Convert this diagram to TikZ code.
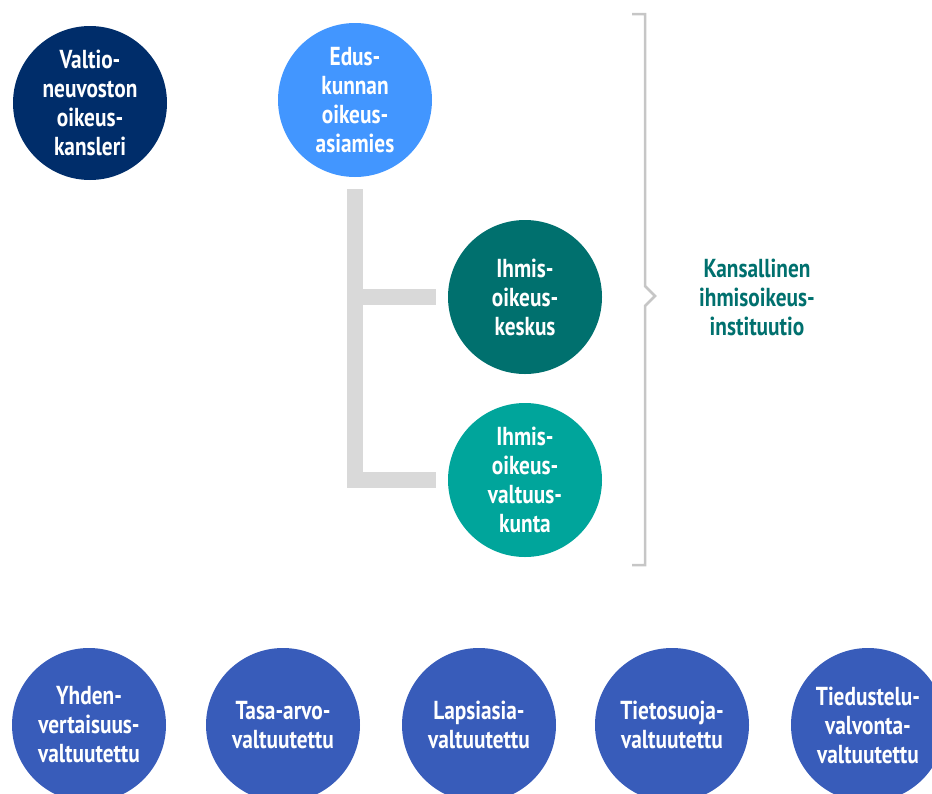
\documentclass[tikz,border=0pt]{standalone}
\usepackage{fontspec}
\setmainfont{PT Sans}[FakeStretch=0.82]
\usetikzlibrary{positioning}
\definecolor{navy}{RGB}{0,45,106}
\definecolor{skyblue}{RGB}{66,150,255}
\definecolor{darkteal}{RGB}{0,112,110}
\definecolor{lightteal}{RGB}{0,165,155}
\definecolor{valtublue}{RGB}{56,92,186}
\definecolor{bargrey}{RGB}{217,217,217}
\begin{document}
\begin{tikzpicture}[x=1pt, y=-1pt,
	ball/.style={circle, minimum size=154pt, inner sep=0pt, text=white, align=center,
		font=\fontsize{26}{29}\selectfont\bfseries},
	conn/.style={line width=16pt, color=bargrey},
	bracket/.style={line width=2.5pt, color=bargrey!90!black!95}]
		\useasboundingbox (0,0) rectangle (932,793);
		\clip (0,0) rectangle (932,793);
		
		\node [ball, fill=navy] (okv) at (90,103) {Valtio-\\neuvoston\\oikeus-\\kansleri};
		\node [ball, fill=skyblue] (eoa) at (355,100) {Edus-\\kunnan\\oikeus-\\asiamies};
		\node [ball, fill=darkteal] (keskus) at (525,297) {Ihmis-\\oikeus-\\keskus};
		\node [ball, fill=lightteal] (vk) at (525,480) {Ihmis-\\oikeus-\\valtuus-\\kunta};
		
		\draw [conn] ([yshift=-12pt]eoa.south) |- ([xshift=-12pt]vk.west);
		\draw [conn] (355,297) -- ([xshift=-12pt]keskus.west);
		
		\coordinate (B1) at (632,14);
		\coordinate (B2) at (645,14);
		\coordinate (B3) at (645,286);
		\coordinate (B4) at (655,296);
		\coordinate (B5) at (645,306);
		\coordinate (B6) at (645,565);
		\coordinate (B7) at (632,565);
		\draw [bracket] (B1) -- (B2) -- (B3) -- (B4) -- (B5) -- (B6) -- (B7);
		
		\node [align=center, text=darkteal, font=\fontsize{26}{29}\selectfont\bfseries] (nhri) at (757,297) {Kansallinen\\ihmisoikeus-\\instituutio};
		
		\node [ball, fill=valtublue] (yvt) at (89,725) {Yhden-\\vertaisuus-\\valtuutettu};
		\node [ball, fill=valtublue] (tasa) at (283,725) {Tasa-arvo-\\valtuutettu};
		\node [ball, fill=valtublue] (lapsi) at (479,725) {Lapsiasia-\\valtuutettu};
		\node [ball, fill=valtublue] (tieto) at (672,725) {Tietosuoja-\\valtuutettu};
		\node [ball, fill=valtublue] (tiedu) at (868,725) {Tiedustelu-\\valvonta-\\valtuutettu};
	\end{tikzpicture}
\end{document}
